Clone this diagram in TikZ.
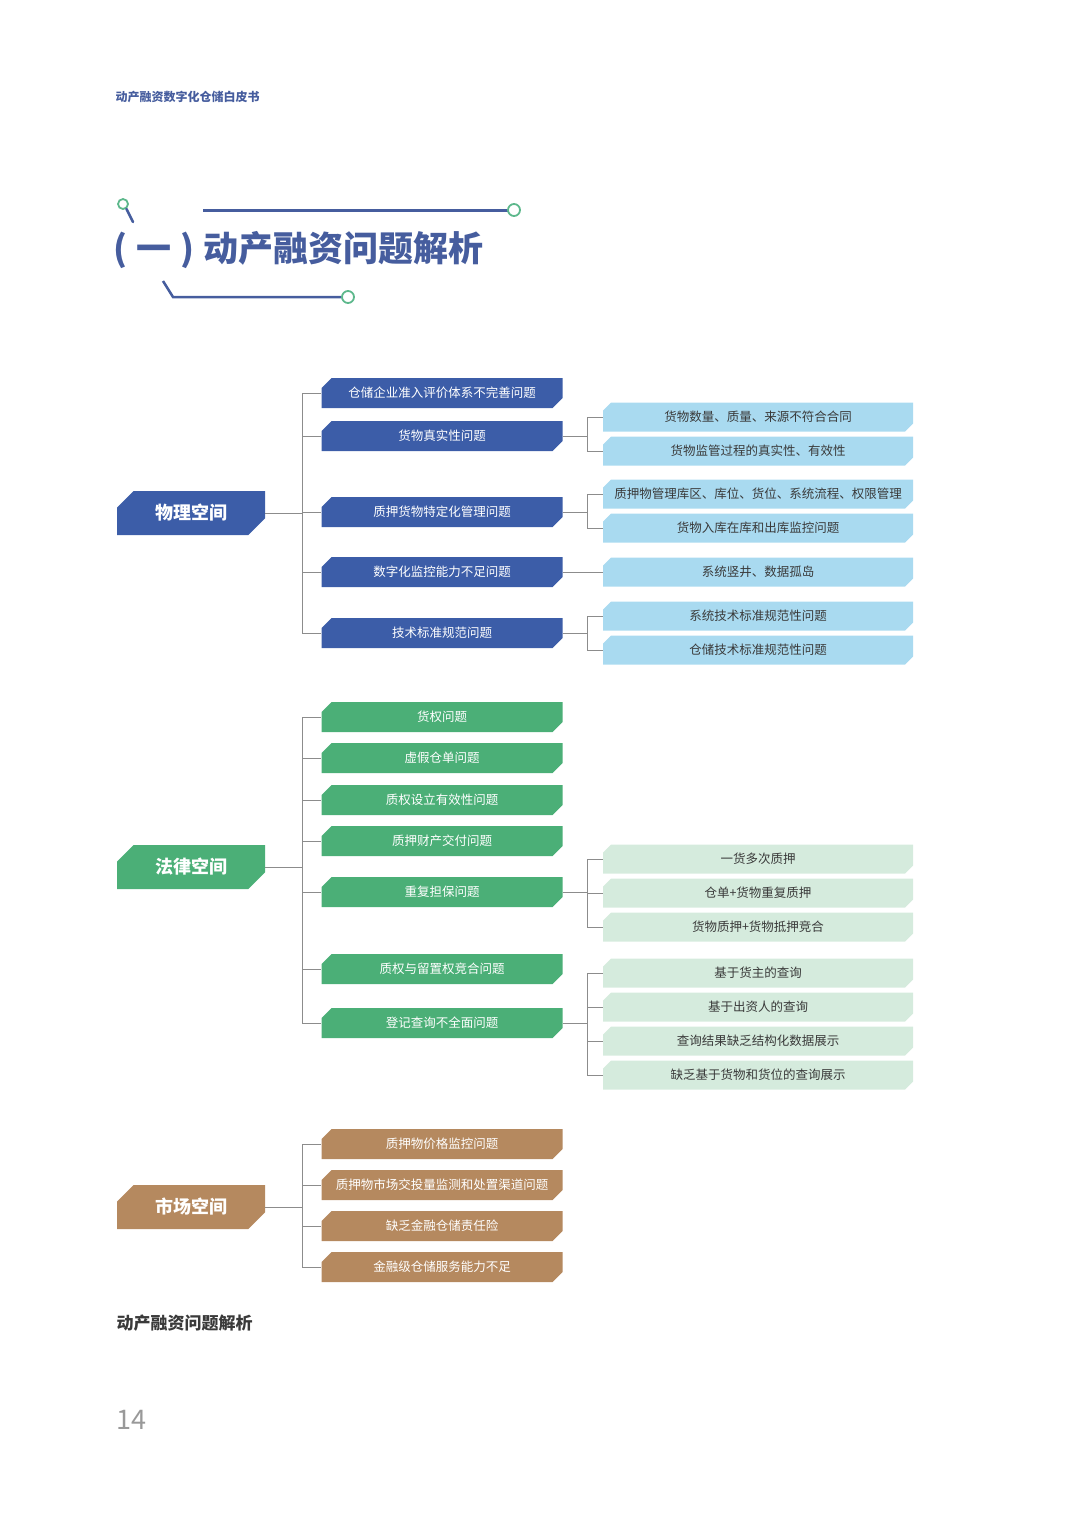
\documentclass[tikz,border=0pt]{standalone}
\usepackage{fontspec}
\setmainfont{Noto Sans CJK SC}
\usetikzlibrary{positioning,shapes.misc}
\definecolor{navy}{HTML}{3C5DA8}
\definecolor{leafgreen}{HTML}{4BAF77}
\definecolor{tan}{HTML}{B5895F}
\definecolor{skyfill}{HTML}{A9DAF0}
\definecolor{mintfill}{HTML}{D5EBDD}
\definecolor{heading}{HTML}{465D9E}
\definecolor{ring}{HTML}{5DB88C}
\definecolor{wire}{HTML}{8C8C8C}
\definecolor{ink}{HTML}{3A3A3A}

\tikzset{
  cut/.style={chamfered rectangle, chamfered rectangle corners={north west,south east}, inner sep=0pt},
  catbox/.style={cut, chamfered rectangle xsep=10pt, chamfered rectangle ysep=8pt, minimum width=148pt, minimum height=44pt,
    text=white, font=\fontsize{18}{20}\selectfont\bfseries},
  subbox/.style={cut, chamfered rectangle xsep=5pt, chamfered rectangle ysep=5pt, minimum width=241pt, minimum height=30pt,
    text=white, font=\fontsize{12.5}{14}\selectfont},
  leafbox/.style={cut, chamfered rectangle xsep=4pt, chamfered rectangle ysep=4pt, minimum width=310pt, minimum height=29pt,
    text=ink, font=\fontsize{12.5}{14}\selectfont},
  conn/.style={wire, line width=1pt},
}

\begin{document}
\begin{tikzpicture}[x=1pt, y=-1pt]
  \useasboundingbox (0,0) rectangle (1080,1528);
  % page header
  \node[font=\fontsize{12}{14}\selectfont\bfseries, text=heading, anchor=west] (hdr) at (112,97) {动产融资数字化仓储白皮书};
  % section title with the two rails
  \draw[ring, line width=1.8pt] (123,204) circle (5pt);
  \draw[heading, line width=2.5pt, line cap=round] (126.5,209) -- (133,222);
  \draw[heading, line width=3pt] (203,210) -- (508,210);
  \draw[ring, line width=1.8pt] (514,210) circle (6pt);
  \node[font=\fontsize{35}{40}\selectfont\bfseries, text=heading, anchor=west] (ttl) at (110,250)
    {(\hspace{9pt}一\hspace{9pt})\hspace{9pt}动产融资问题解析};
  \draw[heading, line width=2.5pt] (163,281) -- (173,297) -- (342,297);
  \draw[ring, line width=1.8pt] (348,297) circle (6pt);

  % ---- physical space (navy) ----
  \node[catbox, fill=navy] (phys) at (191,513) {物理空间};
  \node[subbox, fill=navy] (p1) at (442,393) {仓储企业准入评价体系不完善问题};
  \node[subbox, fill=navy] (p2) at (442,436) {货物真实性问题};
  \node[subbox, fill=navy] (p3) at (442,512) {质押货物特定化管理问题};
  \node[subbox, fill=navy] (p4) at (442,572) {数字化监控能力不足问题};
  \node[subbox, fill=navy] (p5) at (442,633) {技术标准规范问题};
  \node[leafbox, fill=skyfill] (q1) at (758,417) {货物数量、质量、来源不符合合同};
  \node[leafbox, fill=skyfill] (q2) at (758,451) {货物监管过程的真实性、有效性};
  \node[leafbox, fill=skyfill] (q3) at (758,494) {质押物管理库区、库位、货位、系统流程、权限管理};
  \node[leafbox, fill=skyfill] (q4) at (758,528) {货物入库在库和出库监控问题};
  \node[leafbox, fill=skyfill] (q5) at (758,572) {系统竖井、数据孤岛};
  \node[leafbox, fill=skyfill] (q6) at (758,616) {系统技术标准规范性问题};
  \node[leafbox, fill=skyfill] (q7) at (758,650) {仓储技术标准规范性问题};
  \coordinate (ptrunk) at (302,513);
  \coordinate (pj2) at (587,436);
  \coordinate (pj3) at (587,512);
  \coordinate (pj5) at (587,633);
  \draw[conn] (phys.east) -- (ptrunk);
  \foreach \i in {1,...,5} \draw[conn] (ptrunk) |- (p\i.west);
  \draw[conn] (p2.east) -- (pj2) |- (q1.west);
  \draw[conn] (pj2) |- (q2.west);
  \draw[conn] (p3.east) -- (pj3) |- (q3.west);
  \draw[conn] (pj3) |- (q4.west);
  \draw[conn] (p4.east) -- (q5.west);
  \draw[conn] (p5.east) -- (pj5) |- (q6.west);
  \draw[conn] (pj5) |- (q7.west);

  % ---- legal space (green) ----
  \node[catbox, fill=leafgreen] (law) at (191,867) {法律空间};
  \node[subbox, fill=leafgreen] (l1) at (442,717) {货权问题};
  \node[subbox, fill=leafgreen] (l2) at (442,758) {虚假仓单问题};
  \node[subbox, fill=leafgreen] (l3) at (442,800) {质权设立有效性问题};
  \node[subbox, fill=leafgreen] (l4) at (442,841) {质押财产交付问题};
  \node[subbox, fill=leafgreen] (l5) at (442,892) {重复担保问题};
  \node[subbox, fill=leafgreen] (l6) at (442,969) {质权与留置权竞合问题};
  \node[subbox, fill=leafgreen] (l7) at (442,1023) {登记查询不全面问题};
  \node[leafbox, fill=mintfill] (r1) at (758,859) {一货多次质押};
  \node[leafbox, fill=mintfill] (r2) at (758,893) {仓单+货物重复质押};
  \node[leafbox, fill=mintfill] (r3) at (758,927) {货物质押+货物抵押竞合};
  \node[leafbox, fill=mintfill] (r4) at (758,973) {基于货主的查询};
  \node[leafbox, fill=mintfill] (r5) at (758,1007) {基于出资人的查询};
  \node[leafbox, fill=mintfill] (r6) at (758,1041) {查询结果缺乏结构化数据展示};
  \node[leafbox, fill=mintfill] (r7) at (758,1075) {缺乏基于货物和货位的查询展示};
  \coordinate (ltrunk) at (302,867);
  \coordinate (lj5) at (587,892);
  \coordinate (lj7) at (587,1023);
  \draw[conn] (law.east) -- (ltrunk);
  \foreach \i in {1,...,7} \draw[conn] (ltrunk) |- (l\i.west);
  \draw[conn] (l5.east) -- (lj5);
  \foreach \i in {1,2,3} \draw[conn] (lj5) |- (r\i.west);
  \draw[conn] (l7.east) -- (lj7);
  \foreach \i in {4,...,7} \draw[conn] (lj7) |- (r\i.west);

  % ---- market space (tan) ----
  \node[catbox, fill=tan] (market) at (191,1207) {市场空间};
  \node[subbox, fill=tan] (m1) at (442,1144) {质押物价格监控问题};
  \node[subbox, fill=tan] (m2) at (442,1185) {质押物市场交投量监测和处置渠道问题};
  \node[subbox, fill=tan] (m3) at (442,1226) {缺乏金融仓储责任险};
  \node[subbox, fill=tan] (m4) at (442,1267) {金融级仓储服务能力不足};
  \coordinate (mtrunk) at (302,1207);
  \draw[conn] (market.east) -- (mtrunk);
  \foreach \i in {1,...,4} \draw[conn] (mtrunk) |- (m\i.west);

  % caption and page number
  \node[font=\fontsize{17}{20}\selectfont\bfseries, text=ink, anchor=west] (cap) at (113,1323) {动产融资问题解析};
  \node[font=\fontsize{27}{30}\selectfont, text=black!40, anchor=west] (pg) at (113,1420) {14};
\end{tikzpicture}
\end{document}
